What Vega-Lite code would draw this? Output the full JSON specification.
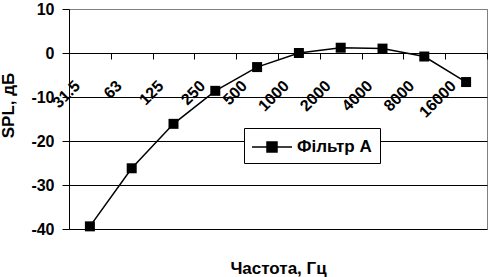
{
  "$schema": "https://vega.github.io/schema/vega-lite/v6.json",
  "width": 418,
  "height": 220,
  "autosize": {"type": "none"},
  "padding": {"left": 69, "top": 9, "right": 3, "bottom": 48},
  "background": "white",
  "config": {
    "view": {"stroke": "#808080", "strokeWidth": 1},
    "font": "Liberation Sans"
  },
  "data": {
    "values": [
      {"freq": "31.5", "spl": -39.4, "series": "Фільтр А"},
      {"freq": "63", "spl": -26.2, "series": "Фільтр А"},
      {"freq": "125", "spl": -16.1, "series": "Фільтр А"},
      {"freq": "250", "spl": -8.6, "series": "Фільтр А"},
      {"freq": "500", "spl": -3.2, "series": "Фільтр А"},
      {"freq": "1000", "spl": 0, "series": "Фільтр А"},
      {"freq": "2000", "spl": 1.2, "series": "Фільтр А"},
      {"freq": "4000", "spl": 1.0, "series": "Фільтр А"},
      {"freq": "8000", "spl": -0.8, "series": "Фільтр А"},
      {"freq": "16000", "spl": -6.6, "series": "Фільтр А"}
    ]
  },
  "encoding": {
    "x": {
      "field": "freq",
      "type": "ordinal",
      "sort": null,
      "bandPosition": 0.5,
      "scale": {"type": "band", "paddingInner": 0, "paddingOuter": 0},
      "axis": {
        "orient": "bottom",
        "offset": -176,
        "title": "Частота, Гц",
        "titleFont": "Liberation Sans",
        "titleFontWeight": "bold",
        "titleFontSize": 17,
        "titleColor": "black",
        "titleBaseline": "alphabetic",
        "titleY": 220,
        "domainColor": "black",
        "domainWidth": 1,
        "tickBand": "extent",
        "tickColor": "black",
        "tickSize": 6,
        "labelAngle": -45,
        "labelAlign": "right",
        "labelBaseline": "middle",
        "labelOffset": -13,
        "labelPadding": 24,
        "labelFont": "Liberation Sans",
        "labelFontWeight": "bold",
        "labelFontSize": 16,
        "labelColor": "black",
        "labelOverlap": false,
        "grid": false
      }
    },
    "y": {
      "field": "spl",
      "type": "quantitative",
      "scale": {"domain": [-40, 10], "nice": false, "zero": false},
      "axis": {
        "values": [-40, -30, -20, -10, 0, 10],
        "labelExpr": "toString(datum.value)",
        "title": "SPL, дБ",
        "titleFont": "Liberation Sans",
        "titleFontWeight": "bold",
        "titleFontSize": 17,
        "titleColor": "black",
        "titleBaseline": "middle",
        "titleAlign": "center",
        "titleX": -61,
        "titleY": 96,
        "domainColor": "black",
        "tickColor": "black",
        "tickSize": 7,
        "labelPadding": 8,
        "labelFont": "Liberation Sans",
        "labelFontWeight": "bold",
        "labelFontSize": 16,
        "labelColor": "black",
        "grid": true,
        "gridColor": {"condition": {"test": "datum.value === 10", "value": "#808080"}, "value": "black"},
        "gridOpacity": 1,
        "gridWidth": 1
      }
    },
    "color": {
      "field": "series",
      "type": "nominal",
      "scale": {"range": ["black"]},
      "legend": {
        "title": null,
        "orient": "none",
        "legendX": 175,
        "legendY": 119,
        "strokeColor": "black",
        "fillColor": "white",
        "padding": 8,
        "symbolType": "M-2,0H2M-0.5,-0.5H0.5V0.5H-0.5Z",
        "symbolSize": 400,
        "symbolOffset": 9,
        "symbolFillColor": "black",
        "symbolStrokeColor": "black",
        "symbolStrokeWidth": 1.5,
        "labelFont": "Liberation Sans",
        "labelFontWeight": "bold",
        "labelFontSize": 17,
        "labelColor": "black",
        "labelOffset": 14
      }
    }
  },
  "layer": [
    {"mark": {"type": "line", "strokeWidth": 1.5, "color": "black"}},
    {"mark": {"type": "point", "shape": "square", "filled": true, "size": 100, "opacity": 1, "color": "black"}}
  ]
}
